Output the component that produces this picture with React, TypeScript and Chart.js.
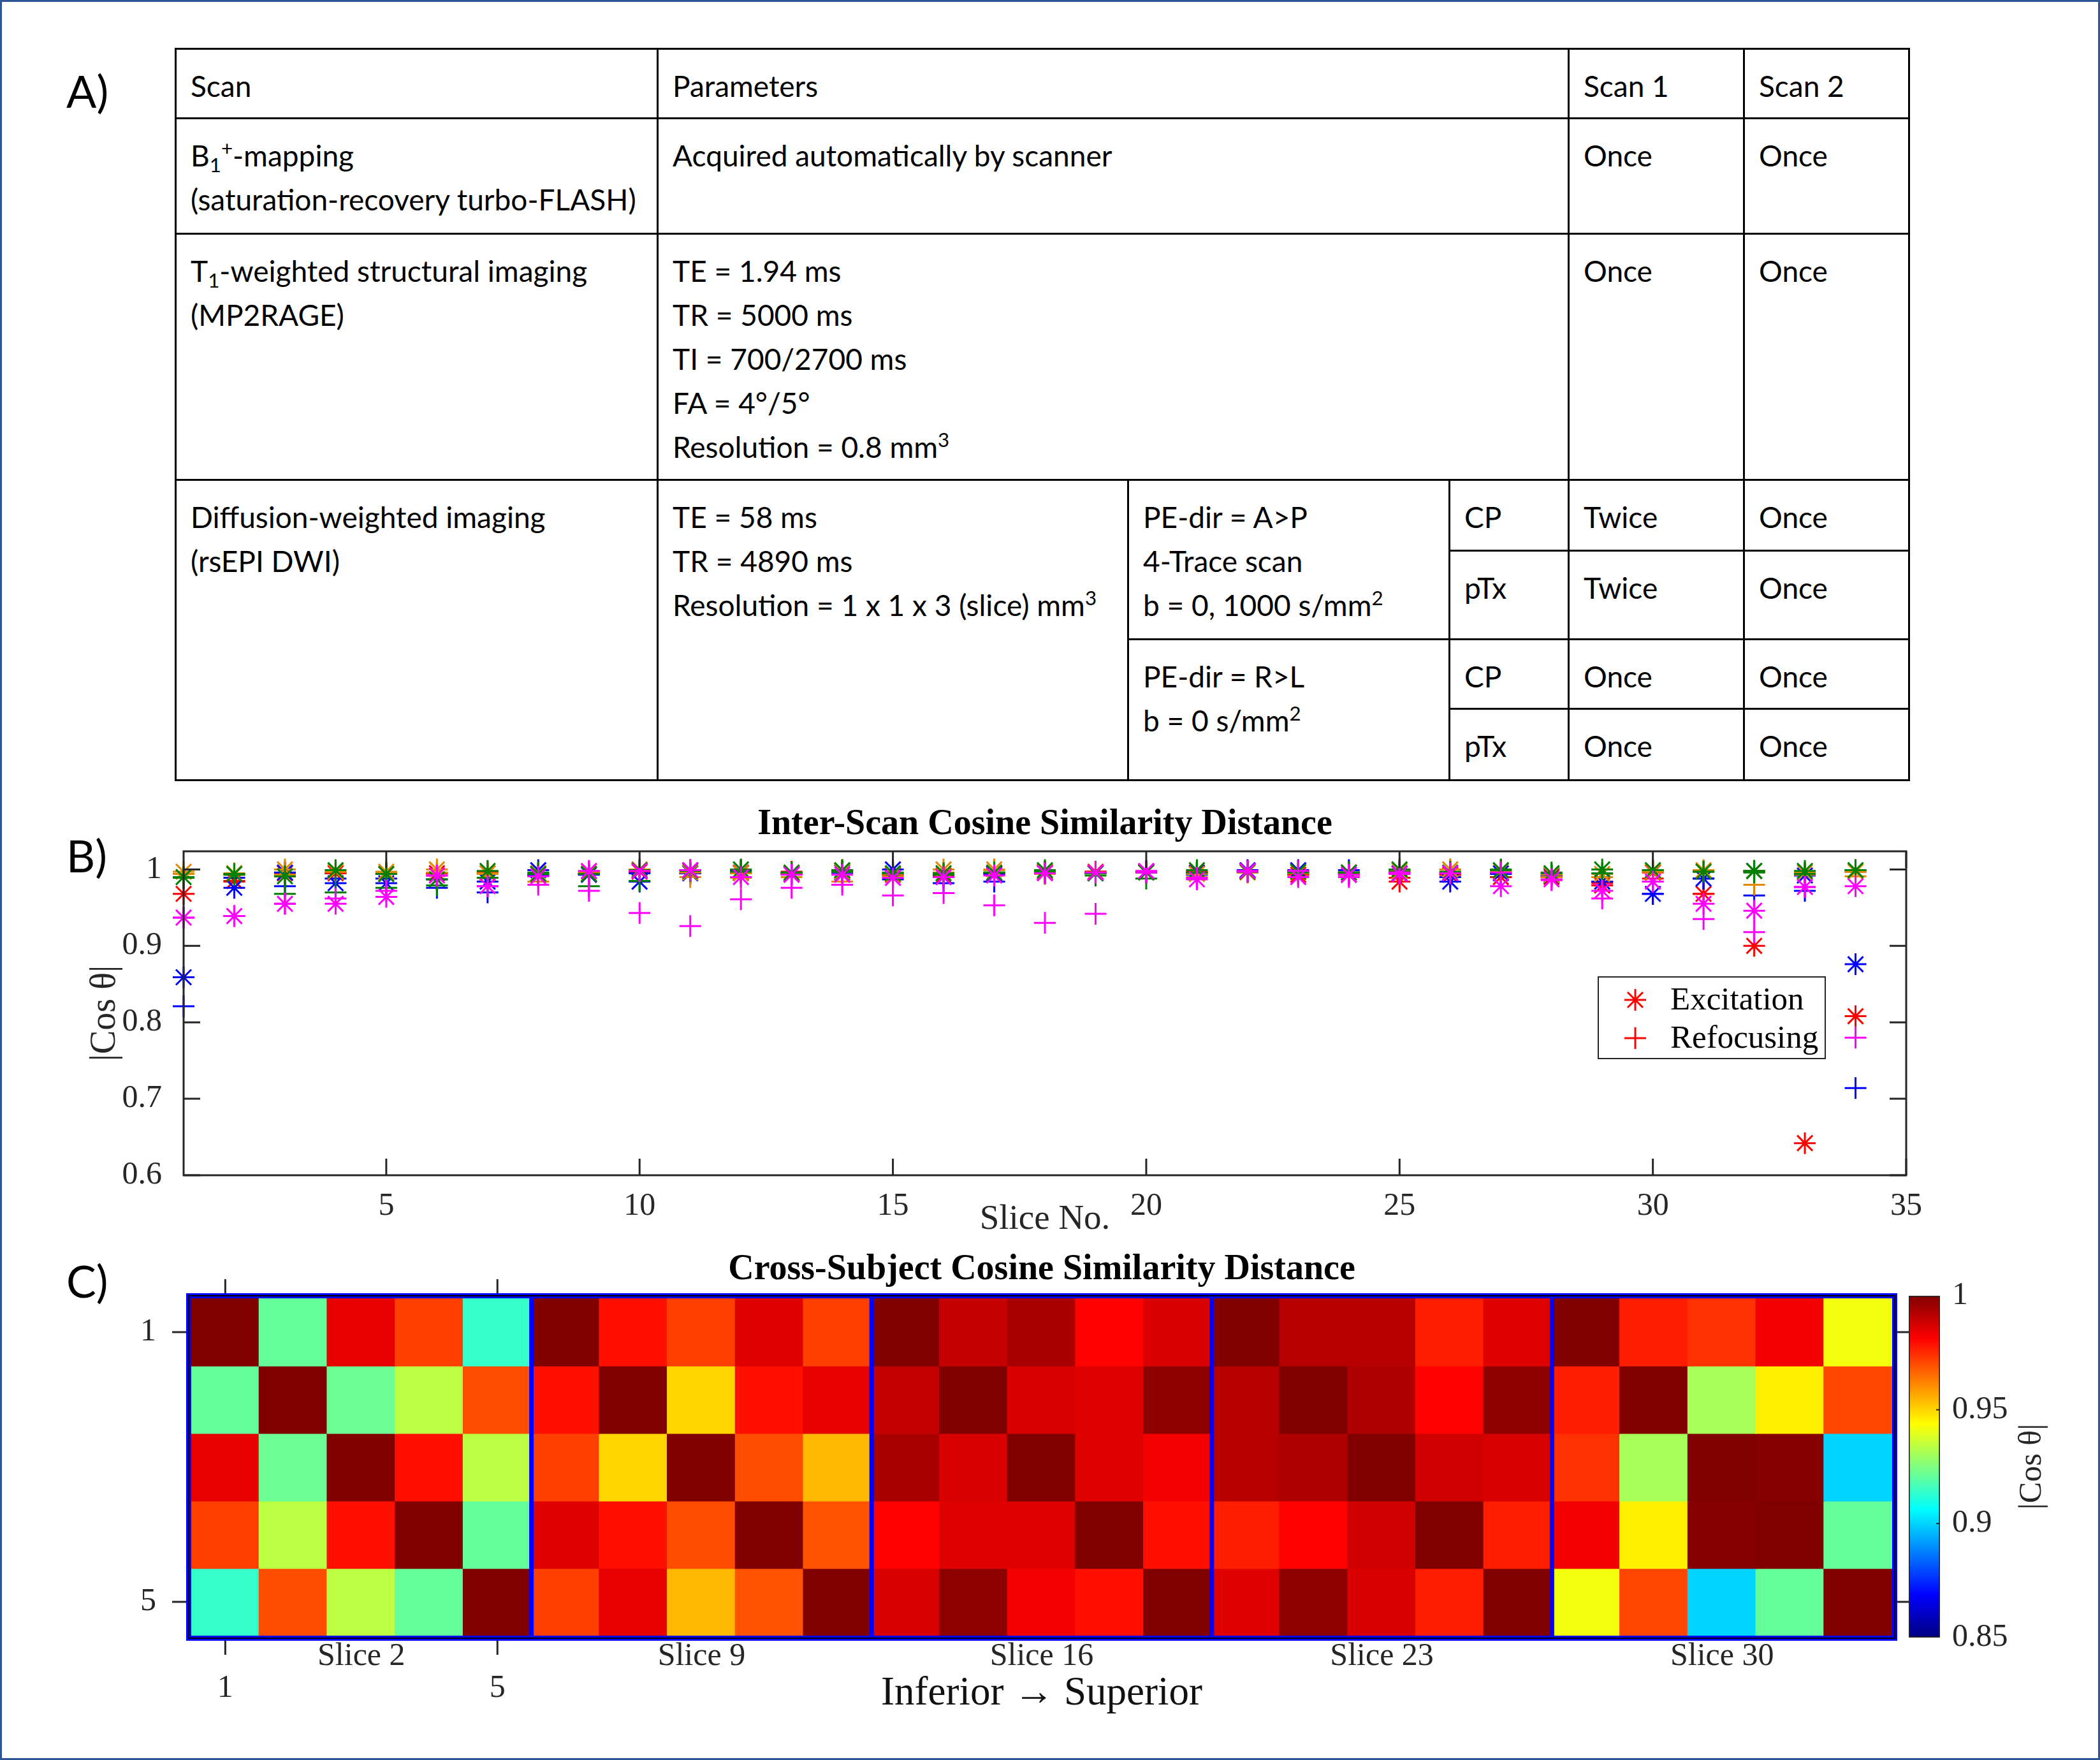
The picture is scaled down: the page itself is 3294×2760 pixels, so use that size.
import React, { useEffect, useRef } from 'react';
import { Chart, registerables } from 'chart.js';

Chart.register(...registerables);

const SERIF = '"Liberation Serif", "Times New Roman", serif';
const SANS = 'Lato, "Open Sans", sans-serif';
const AXIS_COLOR = '#262626';

// ---------------- Panel B data ----------------
const titleB = 'Inter-Scan Cosine Similarity Distance';
const xTitleB = 'Slice No.';
const yTitleB = '|Cos θ|';
const sliceNo = [1, 2, 3, 4, 5, 6, 7, 8, 9, 10, 11, 12, 13, 14, 15, 16, 17, 18, 19, 20, 21, 22, 23, 24, 25, 26, 27, 28, 29, 30, 31, 32, 33, 34];
const xTicksB = [5, 10, 15, 20, 25, 30, 35];
const yTicksB = [0.6, 0.7, 0.8, 0.9, 1];
const xRangeB = [1, 35];
const yRangeB = [0.6, 1.0237];

const redExcitation = [
  0.968, 0.985, 0.995, 0.995, 0.994, 0.995, 0.995, 0.994, 0.994, 0.997,
  0.999, 0.996, 0.995, 0.998, 0.993, 0.992, 0.995, 0.997, 0.997, 0.997,
  0.996, 0.998, 0.993, 0.993, 0.984, 0.993, 0.990, 0.990, 0.979, 0.996,
  0.968, 0.900, 0.642, 0.808,
];
const redRefocusing = [
  0.990, 0.984, 0.991, 0.995, 0.994, 0.995, 0.997, 0.993, 0.995, 0.996,
  0.995, 0.998, 0.997, 0.999, 0.993, 0.991, 0.995, 0.997, 0.997, 0.997,
  0.997, 0.998, 0.993, 0.993, 0.989, 0.993, 0.990, 0.990, 0.982, 0.988,
  0.968, 0.997, 0.995, 0.997,
];
const blueExcitation = [
  0.859, 0.976, 0.996, 0.982, 0.982, 0.987, 0.984, 0.999, 0.993, 0.984,
  0.995, 0.995, 0.994, 0.996, 1.000, 0.990, 0.994, 0.996, 0.995, 0.997,
  0.995, 0.999, 0.999, 0.996, 0.995, 0.984, 0.995, 0.992, 0.984, 0.968,
  0.988, 0.998, 0.992, 0.876,
];
const blueRefocusing = [
  0.821, 0.989, 0.978, 0.988, 0.988, 0.976, 0.970, 0.992, 0.994, 0.995,
  0.995, 0.999, 0.994, 0.996, 0.987, 0.982, 0.984, 0.995, 0.995, 0.997,
  0.993, 0.997, 0.998, 0.999, 0.999, 0.990, 0.994, 0.992, 0.984, 0.968,
  0.988, 0.966, 0.972, 0.714,
];
const greenExcitation = [
  0.990, 0.994, 0.991, 0.999, 0.994, 0.987, 0.998, 0.994, 0.994, 0.999,
  0.998, 1.000, 0.996, 0.999, 0.995, 0.995, 0.996, 0.999, 0.995, 0.996,
  0.999, 0.997, 0.997, 0.996, 1.000, 0.996, 0.999, 0.995, 1.000, 0.999,
  0.997, 0.998, 0.998, 0.999,
];
const greenRefocusing = [
  0.989, 0.993, 0.968, 0.970, 0.976, 0.979, 0.989, 0.996, 0.978, 0.985,
  0.999, 0.997, 0.996, 0.997, 0.996, 0.993, 0.996, 0.997, 0.992, 0.988,
  0.996, 0.997, 0.996, 0.996, 0.997, 0.997, 1.000, 0.996, 0.995, 0.999,
  0.997, 0.996, 0.994, 0.999,
];
const orangeExcitation = [
  0.997, 0.995, 1.000, 0.997, 0.997, 1.000, 0.995, 0.995, 0.997, 1.000,
  0.996, 0.995, 0.995, 0.997, 0.994, 1.000, 1.000, 0.996, 0.996, 0.996,
  0.994, 0.996, 0.996, 0.996, 0.998, 1.000, 0.998, 0.993, 0.994, 0.997,
  0.999, 0.998, 0.996, 0.997,
];
const orangeRefocusing = [
  0.994, 0.993, 0.993, 0.997, 0.996, 0.996, 0.994, 0.984, 0.997, 0.999,
  0.990, 0.989, 0.990, 0.984, 0.991, 0.996, 0.999, 0.994, 0.996, 0.996,
  0.990, 0.996, 0.995, 0.996, 0.997, 1.000, 0.998, 0.990, 0.990, 0.997,
  0.998, 0.980, 0.993, 0.991,
];
const magentaExcitation = [
  0.937, 0.939, 0.955, 0.955, 0.964, 0.992, 0.978, 0.991, 0.998, 0.998,
  0.999, 0.990, 0.993, 0.993, 0.989, 0.990, 0.992, 0.995, 0.996, 0.998,
  0.987, 0.998, 0.990, 0.993, 0.994, 0.995, 0.978, 0.987, 0.972, 0.984,
  0.955, 0.946, 0.977, 0.978,
];
const magentaRefocusing = [
  0.937, 0.939, 0.955, 0.962, 0.972, 0.992, 0.978, 0.980, 0.972, 0.943,
  0.926, 0.961, 0.976, 0.980, 0.966, 0.969, 0.953, 0.930, 0.942, 0.996,
  0.989, 0.997, 0.998, 0.990, 0.996, 0.995, 0.996, 0.986, 0.962, 0.984,
  0.935, 0.918, 0.977, 0.780,
];

// draw order: first dataset is drawn on top
const subjectColors = ['#FF00FF', '#008000', '#E08A00', '#0000FF', '#FF0000'];
const excitationSeries = [magentaExcitation, greenExcitation, orangeExcitation, blueExcitation, redExcitation];
const refocusingSeries = [magentaRefocusing, greenRefocusing, orangeRefocusing, blueRefocusing, redRefocusing];
const legendLabels = ['Excitation', 'Refocusing'];
const legendStyles = ['star', 'cross'];
const legendColor = '#FF0000';

// ---------------- Panel C data ----------------
const titleC = 'Cross-Subject Cosine Similarity Distance';
const xTitleC = 'Inferior → Superior';
const sliceGroups = ['Slice 2', 'Slice 9', 'Slice 16', 'Slice 23', 'Slice 30'];
const subjectIds = ['1', '2', '3', '4', '5'];
const subjectTickLabels = ['1', '5'];
const slice2 = [
  [1.000, 0.921, 0.985, 0.972, 0.914],
  [0.921, 1.000, 0.922, 0.934, 0.970],
  [0.985, 0.922, 1.000, 0.979, 0.934],
  [0.972, 0.934, 0.979, 1.000, 0.921],
  [0.914, 0.970, 0.934, 0.921, 1.000],
];
const slice9 = [
  [1.000, 0.979, 0.972, 0.986, 0.972],
  [0.979, 1.000, 0.950, 0.979, 0.985],
  [0.972, 0.950, 1.000, 0.970, 0.954],
  [0.986, 0.979, 0.970, 1.000, 0.969],
  [0.972, 0.985, 0.954, 0.969, 1.000],
];
const slice16 = [
  [1.000, 0.990, 0.994, 0.981, 0.987],
  [0.990, 1.000, 0.987, 0.986, 0.998],
  [0.994, 0.987, 1.000, 0.986, 0.983],
  [0.981, 0.986, 0.986, 1.000, 0.979],
  [0.987, 0.998, 0.983, 0.979, 1.000],
];
const slice23 = [
  [1.000, 0.992, 0.992, 0.977, 0.986],
  [0.992, 1.000, 0.993, 0.981, 0.998],
  [0.992, 0.993, 1.000, 0.988, 0.987],
  [0.977, 0.981, 0.988, 1.000, 0.977],
  [0.986, 0.998, 0.987, 0.977, 1.000],
];
const slice30 = [
  [1.000, 0.977, 0.974, 0.983, 0.942],
  [0.977, 1.000, 0.931, 0.946, 0.971],
  [0.974, 0.931, 1.000, 0.999, 0.900],
  [0.983, 0.946, 0.999, 1.000, 0.921],
  [0.942, 0.971, 0.900, 0.921, 1.000],
];
const sliceMatrices = [slice2, slice9, slice16, slice23, slice30];
const colorRange = [0.85, 1];
const colorbarTicks = [0.85, 0.9, 0.95, 1];
const colorbarTitle = '|Cos θ|';

// ---------------- helpers ----------------
function jet(v: number): string {
  const t = Math.min(1, Math.max(0, (v - colorRange[0]) / (colorRange[1] - colorRange[0])));
  const c = (x: number) => Math.round(255 * Math.min(1, Math.max(0, x)));
  return `rgb(${c(1.5 - Math.abs(4 * t - 3))},${c(1.5 - Math.abs(4 * t - 2))},${c(1.5 - Math.abs(4 * t - 1))})`;
}

function drawMarker(ctx: CanvasRenderingContext2D, style: string, x: number, y: number, r: number) {
  ctx.beginPath();
  ctx.moveTo(x - r, y); ctx.lineTo(x + r, y);
  ctx.moveTo(x, y - r); ctx.lineTo(x, y + r);
  if (style === 'star') {
    const d = r * Math.SQRT1_2;
    ctx.moveTo(x - d, y - d); ctx.lineTo(x + d, y + d);
    ctx.moveTo(x - d, y + d); ctx.lineTo(x + d, y - d);
  }
  ctx.stroke();
}

type TickOpts = {
  color: string; width: number; len: number; inside: boolean; offset: number; box: boolean;
  xVals: number[]; yVals: number[]; top: boolean; bottom: boolean; left: boolean; right: boolean;
};
function boxTicks(o: TickOpts) {
  return {
    id: 'boxTicks',
    afterDraw(chart: any) {
      const { ctx, chartArea: a, scales } = chart;
      ctx.save();
      ctx.strokeStyle = o.color;
      ctx.lineWidth = o.width;
      if (o.box) ctx.strokeRect(a.left, a.top, a.right - a.left, a.bottom - a.top);
      const dir = o.inside ? 1 : -1;
      ctx.beginPath();
      o.xVals.forEach((v) => {
        const px = scales.x.getPixelForValue(v);
        if (o.bottom) { ctx.moveTo(px, a.bottom - dir * o.offset); ctx.lineTo(px, a.bottom - dir * (o.offset + o.len)); }
        if (o.top) { ctx.moveTo(px, a.top + dir * o.offset); ctx.lineTo(px, a.top + dir * (o.offset + o.len)); }
      });
      o.yVals.forEach((v) => {
        const py = scales.y.getPixelForValue(v);
        if (o.left) { ctx.moveTo(a.left + dir * o.offset, py); ctx.lineTo(a.left + dir * (o.offset + o.len), py); }
        if (o.right) { ctx.moveTo(a.right - dir * o.offset, py); ctx.lineTo(a.right - dir * (o.offset + o.len), py); }
      });
      ctx.stroke();
      ctx.restore();
    },
  };
}

const markerLegend = {
  id: 'markerLegend',
  afterDraw(chart: any) {
    const { ctx, chartArea: a } = chart;
    const w = 356, h = 128;
    const x0 = a.right - 483, y0 = a.top + 197;
    ctx.save();
    ctx.fillStyle = '#FFFFFF';
    ctx.fillRect(x0, y0, w, h);
    ctx.strokeStyle = AXIS_COLOR;
    ctx.lineWidth = 2;
    ctx.strokeRect(x0, y0, w, h);
    legendLabels.forEach((label, i) => {
      const cy = y0 + 36 + i * 60;
      ctx.strokeStyle = legendColor;
      ctx.lineWidth = 3;
      drawMarker(ctx, legendStyles[i], x0 + 58, cy, 17);
      ctx.fillStyle = '#000';
      ctx.font = `51px ${SERIF}`;
      ctx.textBaseline = 'middle';
      ctx.textAlign = 'left';
      ctx.fillText(label, x0 + 113, cy + 2);
    });
    ctx.restore();
  },
};

const groupBorders = {
  id: 'groupBorders',
  afterDatasetsDraw(chart: any) {
    const { ctx, chartArea: a, scales } = chart;
    const x = scales.x;
    const colW = x.getPixelForValue(1) - x.getPixelForValue(0);
    ctx.save();
    ctx.strokeStyle = '#0000FF';
    ctx.lineWidth = 7;
    for (let g = 1; g < sliceGroups.length; g++) {
      const px = x.getPixelForValue(g * subjectIds.length) - colW / 2;
      ctx.beginPath();
      ctx.moveTo(px, a.top);
      ctx.lineTo(px, a.bottom);
      ctx.stroke();
    }
    ctx.lineWidth = 8;
    ctx.strokeRect(a.left - 4, a.top - 4, a.right - a.left + 8, a.bottom - a.top + 8);
    ctx.strokeStyle = '#000';
    ctx.lineWidth = 2;
    ctx.strokeRect(a.left - 4, a.top - 4, a.right - a.left + 8, a.bottom - a.top + 8);
    ctx.restore();
  },
};

const colorbarLabel = {
  id: 'colorbarLabel',
  afterDraw(chart: any) {
    const { ctx, chartArea: a } = chart;
    ctx.save();
    ctx.translate(208, (a.top + a.bottom) / 2);
    ctx.rotate(-Math.PI / 2);
    ctx.fillStyle = AXIS_COLOR;
    ctx.font = `50px ${SERIF}`;
    ctx.textAlign = 'center';
    ctx.textBaseline = 'middle';
    ctx.fillText(colorbarTitle, 0, 0);
    ctx.restore();
  },
};

// ---------------- chart configs ----------------
function scatterConfig(): any {
  const datasets: any[] = [];
  subjectColors.forEach((color, i) => {
    datasets.push({
      label: legendLabels[0],
      data: sliceNo.map((x, j) => ({ x, y: excitationSeries[i][j] })),
      pointStyle: 'star', pointRadius: 17, pointBorderWidth: 3,
      borderColor: color, backgroundColor: color, showLine: false, clip: false,
    });
    datasets.push({
      label: legendLabels[1],
      data: sliceNo.map((x, j) => ({ x, y: refocusingSeries[i][j] })),
      pointStyle: 'cross', pointRadius: 17, pointBorderWidth: 3,
      borderColor: color, backgroundColor: color, showLine: false, clip: false,
    });
  });
  return {
    type: 'scatter',
    data: { datasets },
    options: {
      animation: false, responsive: false, devicePixelRatio: 1,
      layout: { padding: { left: 0, right: 184, top: 0, bottom: 0 } },
      plugins: {
        legend: { display: false },
        tooltip: { enabled: false },
        title: {
          display: true, fullSize: false, text: titleB, color: '#000',
          font: { family: SERIF, size: 56, weight: 'bold', lineHeight: 1.2 },
          padding: { top: 10, bottom: 7.8 },
        },
      },
      scales: {
        x: {
          type: 'linear', min: xRangeB[0], max: xRangeB[1],
          afterBuildTicks: (s: any) => { s.ticks = xTicksB.map((v) => ({ value: v })); },
          afterFit: (s: any) => { s.height = 117; },
          grid: { display: false, drawTicks: false },
          border: { display: false },
          ticks: { color: AXIS_COLOR, padding: 19, maxRotation: 0, autoSkip: false, font: { family: SERIF, size: 50, lineHeight: 1.2 } },
          title: { display: true, text: xTitleB, color: AXIS_COLOR, font: { family: SERIF, size: 55, lineHeight: 1.2 }, padding: { top: 0, bottom: 14 } },
        },
        y: {
          type: 'linear', min: yRangeB[0], max: yRangeB[1],
          afterBuildTicks: (s: any) => { s.ticks = yTicksB.map((v) => ({ value: v })); },
          afterFit: (s: any) => { s.width = 188; },
          grid: { display: false, drawTicks: false },
          border: { display: false },
          ticks: {
            color: AXIS_COLOR, padding: 34, font: { family: SERIF, size: 50, lineHeight: 1.2 },
            callback: (v: number) => String(Math.round(v * 10) / 10),
          },
          title: { display: true, text: yTitleB, color: AXIS_COLOR, font: { family: SERIF, size: 56, lineHeight: 1.2 }, padding: { top: 32, bottom: 0 } },
        },
      },
    },
    plugins: [
      boxTicks({ color: AXIS_COLOR, width: 3, len: 26, inside: true, offset: 0, box: true, xVals: xTicksB, yVals: yTicksB, top: true, bottom: true, left: true, right: true }),
      markerLegend,
    ],
  };
}

function heatConfig(): any {
  const columnLabels = sliceGroups.flatMap((g) => subjectIds.map((s) => `${g} / ${s}`));
  const datasets = subjectIds.map((_, r) => {
    const rowValues = sliceMatrices.flatMap((m) => m[r]);
    return {
      label: `Subject ${subjectIds[r]}`,
      data: rowValues.map(() => 1),
      backgroundColor: rowValues.map((v) => jet(v)),
      borderWidth: 0, barPercentage: 1, categoryPercentage: 1, inflateAmount: 1, stack: 'rows',
    };
  });
  const n = subjectIds.length;
  return {
    type: 'bar',
    data: { labels: columnLabels, datasets },
    options: {
      animation: false, responsive: false, devicePixelRatio: 1,
      layout: { padding: { left: 0, right: 196, top: 0, bottom: 0 } },
      plugins: {
        legend: { display: false },
        tooltip: { enabled: false },
        title: {
          display: true, fullSize: false, text: titleC, color: '#000',
          font: { family: SERIF, size: 56, weight: 'bold', lineHeight: 1.2 },
          padding: { top: 8.4, bottom: 10.4 },
        },
      },
      scales: {
        x: {
          type: 'category', stacked: true,
          afterFit: (s: any) => { s.height = 155; },
          grid: { display: false, drawTicks: false, offset: false },
          border: { display: false },
          ticks: {
            color: AXIS_COLOR, padding: 8, autoSkip: false, maxRotation: 0, minRotation: 0,
            font: { family: SERIF, size: 50, lineHeight: 1.0 },
            callback: (_v: any, idx: number) => {
              const g = Math.floor(idx / n), k = idx % n;
              const line1 = k === Math.floor(n / 2) ? sliceGroups[g] : '';
              const line2 = g === 0 && k === 0 ? subjectTickLabels[0] : g === 0 && k === n - 1 ? subjectTickLabels[1] : '';
              return line1 || line2 ? [line1, line2] : '';
            },
          },
          title: { display: true, text: xTitleC, color: '#111', font: { family: SERIF, size: 63, lineHeight: 1.2 }, padding: { top: 0, bottom: 26 } },
        },
        y: {
          type: 'linear', stacked: true, reverse: true, min: 0, max: n,
          afterBuildTicks: (s: any) => { s.ticks = [0.5, n - 0.5].map((v) => ({ value: v })); },
          afterFit: (s: any) => { s.width = 200; },
          grid: { display: false, drawTicks: false },
          border: { display: false },
          ticks: {
            color: AXIS_COLOR, padding: 55, font: { family: SERIF, size: 50, lineHeight: 1.2 },
            callback: (_v: any, idx: number) => subjectTickLabels[idx],
          },
        },
      },
    },
    plugins: [
      groupBorders,
      boxTicks({ color: AXIS_COLOR, width: 3, len: 22, inside: false, offset: 8, box: false, xVals: [0, n - 1], yVals: [0.5, n - 0.5], top: true, bottom: true, left: true, right: true }),
    ],
  };
}

function colorbarConfig(): any {
  const stops = [0, 0.125, 0.25, 0.375, 0.5, 0.625, 0.75, 0.875, 1];
  return {
    type: 'bar',
    data: {
      labels: [colorbarTitle],
      datasets: [{
        data: [[colorRange[0], colorRange[1]]],
        backgroundColor: (c: any) => {
          const a = c.chart.chartArea;
          if (!a) return 'rgba(0,0,0,0)';
          const g = c.chart.ctx.createLinearGradient(0, a.bottom, 0, a.top);
          stops.forEach((t) => g.addColorStop(t, jet(colorRange[0] + t * (colorRange[1] - colorRange[0]))));
          return g;
        },
        borderColor: AXIS_COLOR, borderWidth: 2, borderSkipped: false,
        barPercentage: 1, categoryPercentage: 1,
      }],
    },
    options: {
      animation: false, responsive: false, devicePixelRatio: 1,
      layout: { padding: { left: 14, right: 0, top: 82, bottom: 152 } },
      plugins: { legend: { display: false }, tooltip: { enabled: false }, title: { display: false } },
      scales: {
        x: { display: false },
        y: {
          type: 'linear', position: 'right', min: colorRange[0], max: colorRange[1],
          afterBuildTicks: (s: any) => { s.ticks = colorbarTicks.map((v) => ({ value: v })); },
          afterFit: (s: any) => { s.width = 237; },
          grid: { display: false, drawTicks: false },
          border: { display: false },
          ticks: {
            color: AXIS_COLOR, padding: 19, font: { family: SERIF, size: 50, lineHeight: 1.2 },
            callback: (v: number) => String(Math.round(v * 100) / 100),
          },
        },
      },
    },
    plugins: [
      boxTicks({ color: AXIS_COLOR, width: 2, len: 6, inside: true, offset: 0, box: false, xVals: [], yVals: [0.9, 0.95], top: false, bottom: false, left: false, right: true }),
      colorbarLabel,
    ],
  };
}

// ---------------- table ----------------
const tableColWidths = [756, 738, 504, 187, 275, 259];
const tableRowHeights = [109, 181, 386, 111, 139, 109, 112];

const cell: React.CSSProperties = {
  border: '3px solid #000', padding: '22px 6px 0 22px', verticalAlign: 'top',
  lineHeight: '69px', textAlign: 'left', whiteSpace: 'nowrap', overflow: 'hidden',
};
const subStyle: React.CSSProperties = { fontSize: '0.68em', lineHeight: 0, verticalAlign: '-0.3em' };
const supStyle: React.CSSProperties = { fontSize: '0.68em', lineHeight: 0, verticalAlign: '0.55em' };

function ScanTable() {
  return (
    <table style={{
      position: 'absolute', left: 274, top: 75, borderCollapse: 'collapse', tableLayout: 'fixed',
      width: 2722, fontFamily: SANS, fontSize: 46, color: '#000',
    }}>
      <colgroup>{tableColWidths.map((w, i) => <col key={i} style={{ width: w }} />)}</colgroup>
      <tbody>
        <tr style={{ height: tableRowHeights[0] }}>
          <td style={cell}>Scan</td>
          <td style={cell} colSpan={3}>Parameters</td>
          <td style={cell}>Scan 1</td>
          <td style={cell}>Scan 2</td>
        </tr>
        <tr style={{ height: tableRowHeights[1] }}>
          <td style={cell}>
            <div>B<span style={subStyle}>1</span><span style={supStyle}>+</span>-mapping</div>
            <div>(saturation-recovery turbo-FLASH)</div>
          </td>
          <td style={cell} colSpan={3}>Acquired automatically by scanner</td>
          <td style={cell}>Once</td>
          <td style={cell}>Once</td>
        </tr>
        <tr style={{ height: tableRowHeights[2] }}>
          <td style={cell}>
            <div>T<span style={subStyle}>1</span>-weighted structural imaging</div>
            <div>(MP2RAGE)</div>
          </td>
          <td style={cell} colSpan={3}>
            <div>TE = 1.94 ms</div>
            <div>TR = 5000 ms</div>
            <div>TI = 700/2700 ms</div>
            <div>FA = 4°/5°</div>
            <div>Resolution = 0.8 mm<span style={supStyle}>3</span></div>
          </td>
          <td style={cell}>Once</td>
          <td style={cell}>Once</td>
        </tr>
        <tr style={{ height: tableRowHeights[3] }}>
          <td style={cell} rowSpan={4}>
            <div>Diffusion-weighted imaging</div>
            <div>(rsEPI DWI)</div>
          </td>
          <td style={cell} rowSpan={4}>
            <div>TE = 58 ms</div>
            <div>TR = 4890 ms</div>
            <div>Resolution = 1 x 1 x 3 (slice) mm<span style={supStyle}>3</span></div>
          </td>
          <td style={cell} rowSpan={2}>
            <div>{'PE-dir = A>P'}</div>
            <div>4-Trace scan</div>
            <div>b = 0, 1000 s/mm<span style={supStyle}>2</span></div>
          </td>
          <td style={cell}>CP</td>
          <td style={cell}>Twice</td>
          <td style={cell}>Once</td>
        </tr>
        <tr style={{ height: tableRowHeights[4] }}>
          <td style={cell}>pTx</td>
          <td style={cell}>Twice</td>
          <td style={cell}>Once</td>
        </tr>
        <tr style={{ height: tableRowHeights[5] }}>
          <td style={cell} rowSpan={2}>
            <div>{'PE-dir = R>L'}</div>
            <div>b = 0 s/mm<span style={supStyle}>2</span></div>
          </td>
          <td style={cell}>CP</td>
          <td style={cell}>Once</td>
          <td style={cell}>Once</td>
        </tr>
        <tr style={{ height: tableRowHeights[6] }}>
          <td style={cell}>pTx</td>
          <td style={cell}>Once</td>
          <td style={cell}>Once</td>
        </tr>
      </tbody>
    </table>
  );
}

const panelLabel: React.CSSProperties = {
  position: 'absolute', left: 104, fontFamily: SANS, fontSize: 70, lineHeight: '70px', color: '#000',
};

export default function App() {
  const bRef = useRef<HTMLCanvasElement>(null);
  const cRef = useRef<HTMLCanvasElement>(null);
  const cbRef = useRef<HTMLCanvasElement>(null);

  useEffect(() => {
    document.body.style.margin = '0';
    const charts: Chart[] = [];
    if (bRef.current) charts.push(new Chart(bRef.current, scatterConfig()));
    if (cRef.current) charts.push(new Chart(cRef.current, heatConfig()));
    if (cbRef.current) charts.push(new Chart(cbRef.current, colorbarConfig()));
    return () => charts.forEach((c) => c.destroy());
  }, []);

  return (
    <div style={{ position: 'relative', width: 3294, height: 2760, background: '#fff', overflow: 'hidden' }}>
      <div style={{ ...panelLabel, top: 107 }}>A)</div>
      <div style={{ ...panelLabel, top: 1306 }}>B)</div>
      <div style={{ ...panelLabel, top: 1973 }}>C)</div>
      <ScanTable />
      <canvas ref={bRef} width={3074} height={710}
        style={{ position: 'absolute', left: 100, top: 1250, width: 3074, height: 710 }} />
      <canvas ref={cRef} width={3064} height={770}
        style={{ position: 'absolute', left: 100, top: 1950, width: 3064, height: 770 }} />
      <canvas ref={cbRef} width={300} height={770}
        style={{ position: 'absolute', left: 2980, top: 1950, width: 300, height: 770 }} />
      <div style={{
        position: 'absolute', left: 0, top: 0, width: 3294, height: 2760, boxSizing: 'border-box',
        border: '3px solid #2F5597', pointerEvents: 'none',
      }} />
    </div>
  );
}
